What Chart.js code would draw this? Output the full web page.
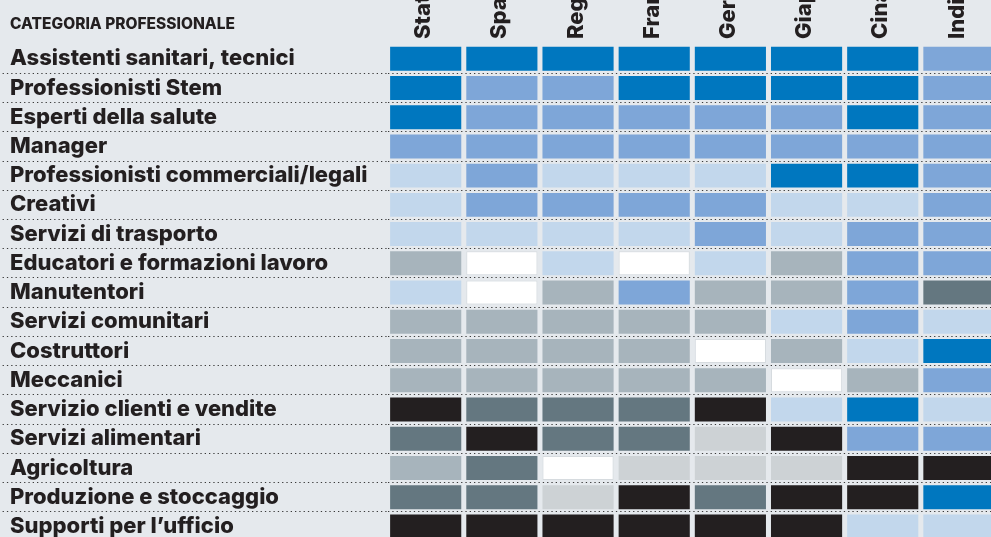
<!DOCTYPE html>
<html>
<head>
<meta charset="utf-8">
<script src="https://cdn.jsdelivr.net/npm/chart.js@4.4.1/dist/chart.umd.min.js"></script>
<style>
    html, body { margin: 0; padding: 0; background: #e5e9ed; overflow: hidden; }
    canvas { display: block; }
</style>
</head>
<body>
<canvas id="heat" width="997" height="541"></canvas>
<script>
// Righe (categorie professionali) e colonne (paesi)
const categories = [
    'Assistenti sanitari, tecnici',
    'Professionisti Stem',
    'Esperti della salute',
    'Manager',
    'Professionisti commerciali/legali',
    'Creativi',
    'Servizi di trasporto',
    'Educatori e formazioni lavoro',
    'Manutentori',
    'Servizi comunitari',
    'Costruttori',
    'Meccanici',
    'Servizio clienti e vendite',
    'Servizi alimentari',
    'Agricoltura',
    'Produzione e stoccaggio',
    'Supporti per l\u2019ufficio'
];
const countries = ['Stati Uniti', 'Spagna', 'Regno Unito', 'Francia', 'Germania', 'Giappone', 'Cina', 'India'];

// Livelli: 3 = forte crescita ... 0 = neutro ... -4 = forte calo
const statiUniti = [3, 3, 3, 2, 1, 1, 1, -2, 1, -2, -2, -2, -4, -3, -2, -3, -4];
const spagna     = [3, 2, 2, 2, 2, 2, 1, 0, 0, -2, -2, -2, -3, -4, -3, -3, -4];
const regnoUnito = [3, 2, 2, 2, 1, 2, 1, 1, -2, -2, -2, -2, -3, -3, 0, -1, -4];
const francia    = [3, 3, 2, 2, 1, 2, 1, 0, 2, -2, -2, -2, -3, -3, -1, -4, -4];
const germania   = [3, 3, 2, 2, 1, 2, 2, 1, -2, -2, 0, -2, -4, -1, -1, -3, -4];
const giappone   = [3, 3, 2, 2, 3, 1, 1, -2, -2, 1, -2, 0, 1, -4, -1, -4, -4];
const cina       = [3, 3, 3, 2, 3, 1, 2, 2, 2, 2, 1, -2, 3, 2, -4, -4, 1];
const india      = [2, 2, 2, 2, 2, 2, 2, 2, -3, 1, 3, 2, 1, 2, -4, 3, 1];
const levels = [statiUniti, spagna, regnoUnito, francia, germania, giappone, cina, india];

const palette = {
    '3': '#0077bf',
    '2': '#7ea6d8',
    '1': '#c2d7ec',
    '0': '#ffffff',
    '-1': '#cdd2d5',
    '-2': '#a7b4bc',
    '-3': '#647780',
    '-4': '#231f20'
};

const inset = 0.033; // spazio tra le celle
const ink = '#231f20';
const dotColor = '#3a3a3a';
const labelFont = { family: 'Inter', size: 22, weight: 800 };

const datasets = countries.map((name, j) => ({
    label: name,
    data: categories.map(() => [j + inset, j + 1 - inset]),
    backgroundColor: ctx => palette[levels[j][ctx.dataIndex]],
    borderColor: '#d6dbdf',
    borderWidth: ctx => levels[j][ctx.dataIndex] === 0 ? 1 : 0,
    borderSkipped: false,
    grouped: false,
    barPercentage: 0.82,
    categoryPercentage: 1
}));

// Intestazioni ruotate dei paesi
const countryLabels = {
    id: 'countryLabels',
    afterDraw(chart) {
        const { ctx, chartArea, scales: { x } } = chart;
        ctx.save();
        ctx.font = labelFont.weight + ' ' + labelFont.size + 'px ' + labelFont.family;
        ctx.fillStyle = ink;
        ctx.textAlign = 'left';
        ctx.textBaseline = 'middle';
        countries.forEach((c, i) => {
            ctx.save();
            ctx.translate(x.getPixelForValue(i + 0.5) - 2, chartArea.top - 5);
            ctx.rotate(-Math.PI / 2);
            ctx.fillText(c, 0, 0);
            ctx.restore();
        });
        ctx.restore();
    }
};

new Chart(document.getElementById('heat'), {
    type: 'bar',
    data: { labels: categories, datasets: datasets },
    plugins: [countryLabels],
    options: {
        responsive: false,
        animation: false,
        indexAxis: 'y',
        layout: { padding: { left: 10, top: 0.5, right: 0, bottom: 0 } },
        plugins: {
            legend: { display: false },
            tooltip: { enabled: false },
            title: {
                display: true,
                text: 'CATEGORIA PROFESSIONALE',
                align: 'start',
                color: ink,
                font: { family: 'Inter', size: 15.5, weight: 800 },
                padding: { top: 14.7, bottom: 10.3 }
            }
        },
        scales: {
            x: { type: 'linear', min: 0, max: 8, display: false },
            y: {
                type: 'category',
                offset: true,
                ticks: {
                    crossAlign: 'far',
                    autoSkip: false,
                    padding: 0,
                    color: ink,
                    font: labelFont
                },
                grid: {
                    offset: true,
                    color: ctx => ctx.index === 0 ? 'transparent' : dotColor,
                    tickColor: ctx => ctx.index === 0 ? 'transparent' : dotColor,
                    lineWidth: 1,
                    tickLength: 385,
                    tickBorderDash: [1.3, 3]
                },
                border: { display: false, dash: [1.3, 3] },
                afterFit: scale => {
                    scale.width = 377.6;
                    scale.paddingTop = 0;
                    scale.paddingBottom = 0;
                }
            }
        }
    }
});
</script>
</body>
</html>
